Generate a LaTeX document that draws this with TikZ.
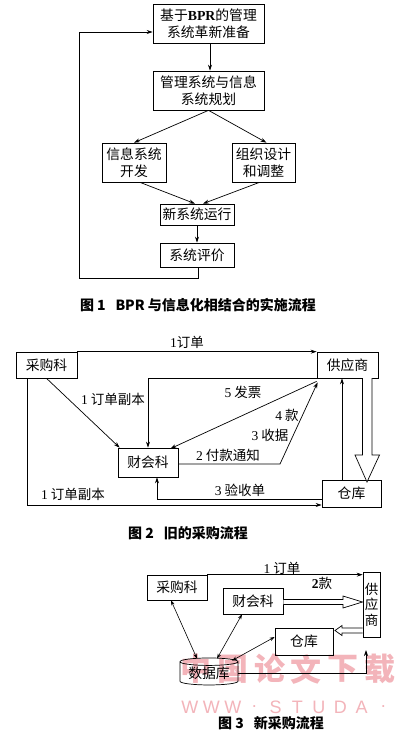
\documentclass[tikz,border=0pt]{standalone}
\usepackage{fontspec}
\setmainfont{Noto Sans CJK SC}
\newfontfamily\lat{Liberation Serif}
\newfontfamily\wmlat{Liberation Sans}
\usetikzlibrary{arrows.meta,shapes.geometric,calc}
\definecolor{wmpink}{RGB}{243,180,186}
\begin{document}
\begin{tikzpicture}[x=1pt,y=-1pt,
  box/.style={draw,line width=0.7pt,inner sep=0pt,align=center,font=\fontsize{13.8}{17}\selectfont},
  arr/.style={line width=0.7pt,-{Stealth[length=6pt,width=4pt]}},
  darr/.style={line width=0.6pt,{Stealth[length=5pt,width=3.5pt]}-{Stealth[length=5pt,width=3.5pt]}},
  ln/.style={line width=0.7pt},
  lab/.style={inner sep=0pt,font=\fontsize{13.5}{15}\selectfont},
  captxt/.style={inner sep=0pt,font=\fontsize{14}{15}\selectfont\bfseries},
  wmc/.style={inner sep=0pt,text=wmpink,font=\fontsize{31}{31}\selectfont\bfseries},
  wml/.style={inner sep=0pt,text=wmpink,font=\wmlat\fontsize{18}{18}\selectfont}]
\useasboundingbox (0,0) rectangle (400,740);
\fill[white] (0,0) rectangle (400,740);

% watermark
\foreach \c [count=\i] in {中,国,论,文,下,载}
  \node[wmc] (wmc\i) at ({178+36.7*(\i-0.5)},669) {\c};
\foreach \c [count=\i] in {W,W,W,.,S,T,U,D,A,.}
  \node[wml] (wml\i) at ({179+21.5*(\i-0.5)},707) {\c};

% ---------- Figure 1 ----------
\node[box,minimum width=111pt,minimum height=39pt] (b1) at (208.5,23.5) {基于{\lat\bfseries BPR}的管理\\系统革新准备};
\node[box,minimum width=111pt,minimum height=39pt] (b2) at (208.5,90.5) {管理系统与信息\\系统规划};
\node[box,minimum width=64pt,minimum height=39pt] (b3) at (134,162.5) {信息系统\\开发};
\node[box,minimum width=63pt,minimum height=39pt] (b4) at (263.5,162.5) {组织设计\\和调整};
\node[box,minimum width=74pt,minimum height=21pt] (b5) at (197,214.5) {新系统运行};
\node[box,minimum width=74pt,minimum height=24pt] (b6) at (197,255) {系统评价};
\coordinate (fb) at (79,278);

\draw[arr] ([xshift=1.5pt]b1.south) -- ([xshift=1.5pt]b2.north);
\draw[arr] (b2.south) -- (b3.north);
\draw[arr] (b2.south) -- ([xshift=3pt]b4.north);
\draw[arr] ([xshift=6pt]b3.south) -- ([xshift=-2pt]b5.north);
\draw[arr] ([xshift=-4pt]b4.south) -- ([xshift=6pt]b5.north);
\draw[arr] (b5.south) -- (b6.north);
\draw[arr] ([xshift=1pt]b6.south) |- (fb) |- ([yshift=-8.5pt]b1.west);

\node[captxt] (c1) at (198,305) {图 1\hspace{0.7em}BPR 与信息化相结合的实施流程};

% ---------- Figure 2 ----------
\node[box,minimum width=61pt,minimum height=26pt] (cg) at (46.5,365) {采购科};
\node[box,minimum width=61pt,minimum height=26pt] (gy) at (347.5,365) {供应商};
\node[box,minimum width=60pt,minimum height=29pt] (ck) at (148,462.5) {财会科};
\node[box,minimum width=59pt,minimum height=27pt] (ku) at (351.5,493.5) {仓库};
\coordinate (k1) at (280,464);

\draw[arr] (cg.north east) -- (gy.north west);
\draw[arr] (gy.south west) -| (ck.north);
\draw[arr] ([yshift=-3pt]gy.south west) -- ([xshift=-8pt,yshift=-1pt]ck.north east);
\draw[arr] (ck.east |- k1) -- (k1) -- ([xshift=1pt,yshift=-4pt]gy.south west);
\draw[arr] (cg.south) -- ([xshift=2pt]ck.north west);
\draw[arr] ([xshift=-19.5pt]cg.south) |- ([yshift=-11.5pt]ku.west);
\draw[arr] ([yshift=-5.5pt]ku.west) -| ([xshift=9pt]ck.south);
\draw[arr] ([xshift=-9.5pt]ku.north) -- ([xshift=-9.5pt]ku.north |- gy.south);
\draw[ln,fill=white] (362.5,378) -- (362.5,455) -- (355,455) -- (367,482) -- (379.5,455) -- (372,455) -- (372,378);

\node[lab] (l1) at (187,342) {{\lat 1}订单};
\node[lab] (l2) at (113,399) {{\lat 1} 订单副本};
\node[lab] (l3) at (243,392) {{\lat 5} 发票};
\node[lab] (l4) at (287,415) {{\lat 4} 款};
\node[lab] (l5) at (270,435) {{\lat 3} 收据};
\node[lab] (l6) at (228,455) {{\lat 2} 付款通知};
\node[lab] (l7) at (73,494) {{\lat 1} 订单副本};
\node[lab] (l8) at (240,490) {{\lat 3} 验收单};

\node[captxt] (c2) at (188,533) {图 2\hspace{0.7em}旧的采购流程};

% ---------- Figure 3 ----------
\node[box,minimum width=60pt,minimum height=25pt] (cg3) at (177,587.5) {采购科};
\node[box,minimum width=60pt,minimum height=26pt] (ck3) at (253,601) {财会科};
\node[box,minimum width=17pt,minimum height=65pt,font=\fontsize{13.5}{15.5}\selectfont] (gy3) at (371.5,604.5) {供\\应\\商};
\node[box,minimum width=58pt,minimum height=27pt] (ku3) at (304,641.5) {仓库};
\node[draw,line width=0.7pt,cylinder,shape border rotate=90,aspect=0.18,minimum width=58pt,minimum height=27pt,inner sep=0pt,font=\fontsize{13.8}{15}\selectfont] (db) at (209,673.5) {数据库};
\coordinate (t3) at (366,650);

\draw[arr] (cg3.north east) -- (gy3.west |- cg3.north);
\draw[ln,fill=white] (ck3.east |- 0,599.5) -- (343,599.5) -- (343,596) -- (362.5,602) -- (343,608) -- (343,604.5) -- (ck3.east |- 0,604.5);
\draw[ln,fill=white] (gy3.west |- 0,628) -- (342,628) -- (342,625.5) -- (335,630.5) -- (342,635.5) -- (342,633) -- (gy3.west |- 0,633);
\draw[arr] (db.east) -| (t3);
\draw[darr] ([xshift=-6pt]cg3.south) -- ([xshift=-12pt,yshift=-1pt]db.north);
\draw[darr] ([xshift=-11pt]ck3.south) -- ([xshift=8pt,yshift=-1pt]db.north);
\draw[darr] ([yshift=4.5pt]ku3.west) -- ([xshift=23pt,yshift=-3pt]db.north);

\node[lab] (m1) at (282,568) {{\lat 1} 订单};
\node[lab] (m2) at (322,583) {{\lat\bfseries 2}款};

\node[captxt] (c3) at (271,723) {图 3\hspace{0.7em}新采购流程};
\end{tikzpicture}
\end{document}
